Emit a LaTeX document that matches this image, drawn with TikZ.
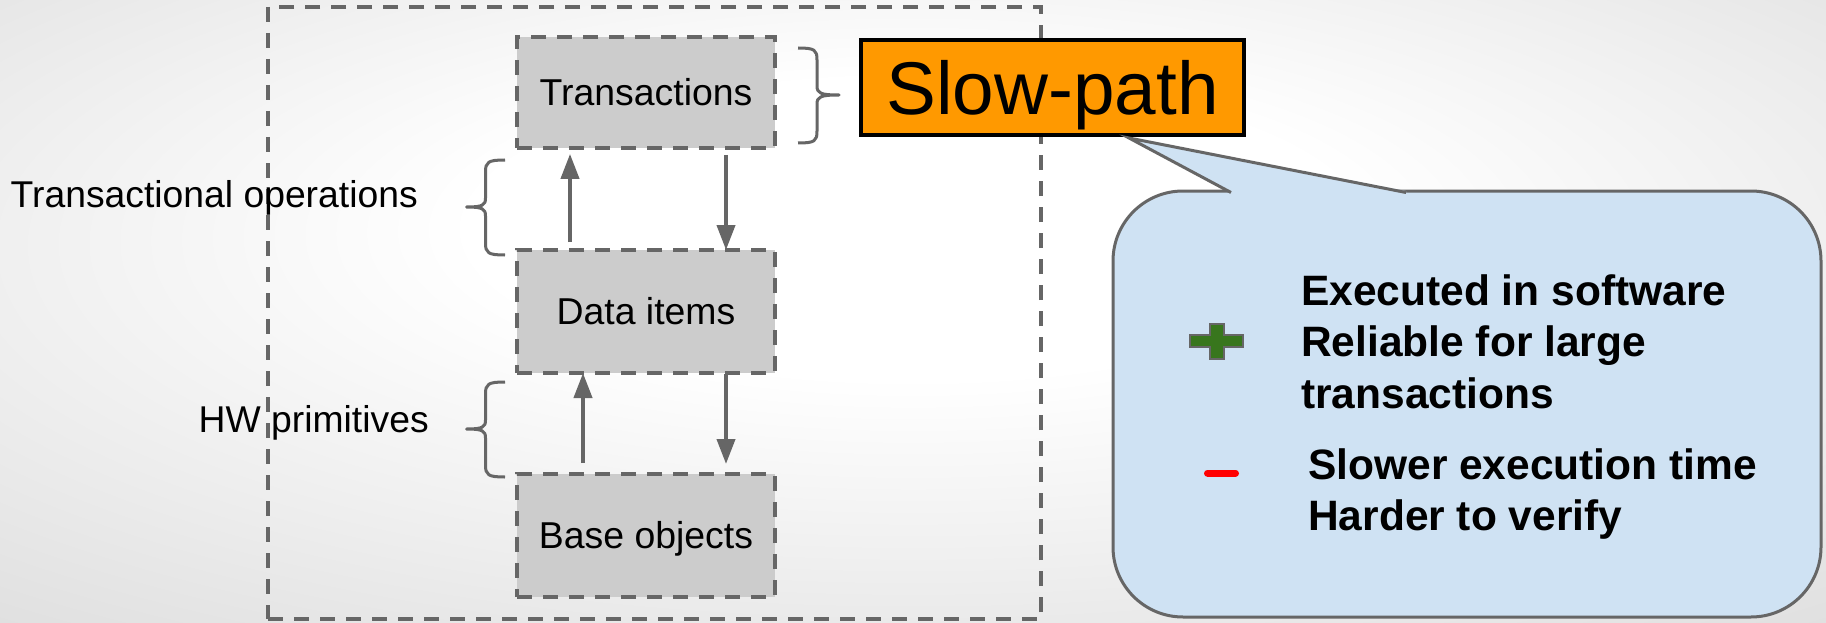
\documentclass[tikz,border=0pt]{standalone}
\usepackage{fontspec}
\setmainfont{Liberation Sans}
\usetikzlibrary{arrows.meta}
\definecolor{lg}{HTML}{666666}
\definecolor{boxfill}{HTML}{CCCCCC}
\definecolor{slow}{HTML}{FF9900}
\definecolor{bubble}{HTML}{CFE2F3}
\definecolor{plusgreen}{HTML}{38761D}
\pgfdeclareradialshading{bgshade}{\pgfpoint{0bp}{8bp}}{color(0bp)=(white); color(12bp)=(white); color(40bp)=(black!13); color(50bp)=(black!18); color(72bp)=(black!24)}
\begin{document}
\begin{tikzpicture}[x=1pt,y=-1pt,
  layer/.style={draw=lg, fill=boxfill, line width=4pt, dash pattern=on 15pt off 11pt,
    minimum width=258pt, inner sep=0pt, outer sep=0pt,
    font=\fontsize{37.4}{44}\selectfont, text height=26.8pt, text depth=0pt},
  frame/.style={draw=lg, line width=3.3pt, dash pattern=on 15pt off 11pt, inner sep=0pt, outer sep=0pt},
  slowbox/.style={draw=black, fill=slow, line width=3.5pt, minimum width=383pt, minimum height=95pt,
    inner sep=0pt, outer sep=0pt, font=\fontsize{74.7}{80}\selectfont, text height=53.5pt, text depth=0pt},
  arr/.style={draw=lg, line width=4pt, -{Triangle[length=25pt,width=18pt]}},
  brace/.style={draw=lg, line width=3pt, line join=round},
  lbl/.style={inner sep=0pt, font=\fontsize{37.3}{44}\selectfont},
  bullet/.style={inner sep=0pt, align=left, font=\bfseries\fontsize{42.5}{51.5}\selectfont},
  callout/.style={draw=lg, fill=bubble, line width=3pt}
]
\useasboundingbox (0,0) rectangle (1826,623);
\shade[shading=bgshade] (0,0) rectangle (1826,623);

% outer dashed frame
\node[frame, minimum width=773pt, minimum height=612pt] (F) at (654.5,313) {};

% layer boxes
\node[layer, minimum height=111pt] (T) at (646,92.4) {Transactions};
\node[layer, minimum height=123pt] (D) at (646,311.5) {Data items};
\node[layer, minimum height=123pt] (B) at (646,535.5) {Base objects};

% arrows
\coordinate (a1) at (570,0);
\coordinate (a2) at (726,0);
\coordinate (a3) at (583,0);
\draw[arr, shorten <=8pt, shorten >=6pt] (a1 |- D.north) -- (a1 |- T.south);
\draw[arr, shorten <=7pt] (a2 |- T.south) -- (a2 |- D.north);
\draw[arr, shorten <=11pt] (a3 |- B.north) -- (a3 |- D.south);
\draw[arr, shorten <=1pt, shorten >=10pt] (a2 |- D.south) -- (a2 |- B.north);

% braces
\draw[brace] (798,48) .. controls (815,48) and (817,50) .. (817,60) -- (817,86)
  .. controls (817,93) and (820,95) .. (839,95) .. controls (820,95) and (817,97) .. (817,104)
  -- (817,131) .. controls (817,141) and (815,143) .. (798,143);
\draw[brace] (505,160) .. controls (488,160) and (485.5,162) .. (485.5,172) -- (485.5,198)
  .. controls (485.5,205) and (483,207) .. (466.5,207) .. controls (483,207) and (485.5,209) .. (485.5,216)
  -- (485.5,243) .. controls (485.5,253) and (488,255) .. (505,255);
\begin{scope}[shift={(0,222)}]
\draw[brace] (505,160) .. controls (488,160) and (485.5,162) .. (485.5,172) -- (485.5,198)
  .. controls (485.5,205) and (483,207) .. (466.5,207) .. controls (483,207) and (485.5,209) .. (485.5,216)
  -- (485.5,243) .. controls (485.5,253) and (488,255) .. (505,255);
\end{scope}

% side labels
\node[lbl, anchor=base west] (ops) at (10.5,207.5) {Transactional operations};
\node[lbl, anchor=base west] (hw) at (198.5,432) {HW primitives};

% slow-path
\node[slowbox] (S) at (1052.5,87.5) {Slow-path\hspace{12pt}};

% callout
\draw[callout, rounded corners=70pt] (1113,191) rectangle (1821,617);
\fill[bubble] (1231,191) -- (1129,138) -- (1406,191) -- (1406,195) -- (1231,195) -- cycle;
\draw[draw=lg, line width=3pt, line join=miter] (1231,192.5) -- (1129,138) -- (1406,192.5);

% plus sign
\begin{scope}[shift={(1216.5,341)}]
\filldraw[fill=plusgreen, draw=lg, line width=2pt]
  (-7,-17.5) -- (7,-17.5) -- (7,-6) -- (26.5,-6) -- (26.5,6) -- (7,6) -- (7,17.5)
  -- (-7,17.5) -- (-7,6) -- (-26.5,6) -- (-26.5,-6) -- (-7,-6) -- cycle;
\end{scope}
% minus sign
\draw[red, line width=7pt, line cap=round] (1207.5,473) -- (1235.5,473);

% callout text (anchor at baseline of last line)
\node[bullet, anchor=base west] (pros) at (1301,408) {Executed in software\\Reliable for large\\transactions};
\node[bullet, anchor=base west] (cons) at (1308,530.5) {Slower execution time\\Harder to verify};
\end{tikzpicture}
\end{document}
